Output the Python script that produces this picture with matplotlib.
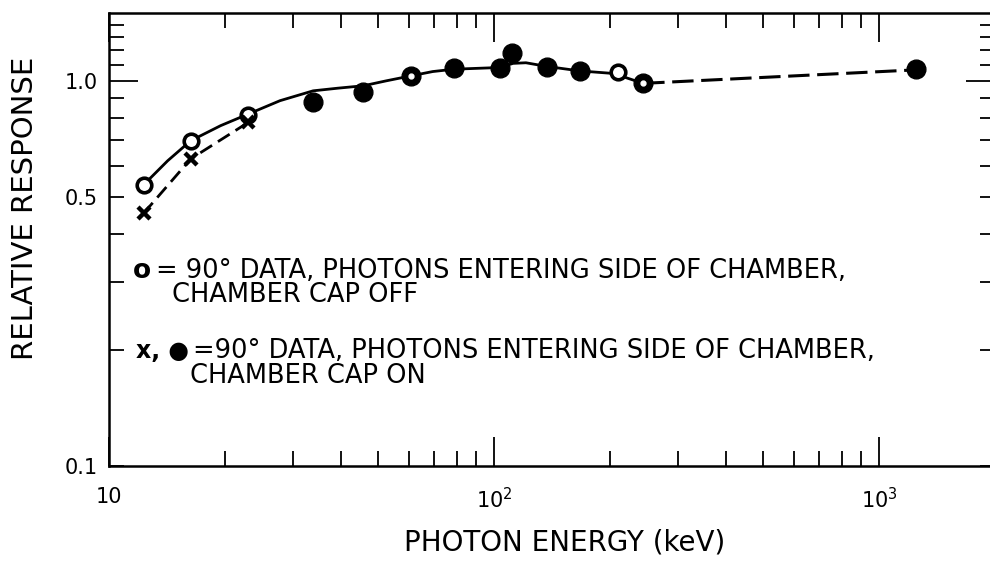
import matplotlib.pyplot as plt

# relative response vs photon energy

# o : cap off
off_e = [12.3, 16.3, 23.0, 210]
off_r = [0.537, 0.699, 0.813, 1.057]

# x : cap on, low energies
x_e = [12.3, 16.3, 23.0]
x_r = [0.453, 0.627, 0.780]

# filled : cap on
on_e = [33.9, 45.8, 60.8, 78.7, 103.7, 111.5, 137, 167, 244, 1250]
on_r = [0.879, 0.933, 1.032, 1.08, 1.08, 1.18, 1.089, 1.061, 0.985, 1.072]

# points where an open and a filled symbol sit on top of each other
both_e = [60.8, 244]
both_r = [1.032, 0.985]

# hand drawn solid curve
fit_e = [12.3, 14.2, 16.3, 19.5, 23.0, 27.8, 33.9, 39.3, 45.8, 52.5, 60.8,
         69.3, 78.7, 103.7, 112, 121, 137, 167, 204, 244]
fit_r = [0.537, 0.62, 0.699, 0.765, 0.82, 0.888, 0.942, 0.957, 0.971, 1.0, 1.03,
         1.057, 1.072, 1.083, 1.11, 1.114, 1.09, 1.061, 1.045, 0.985]

# dashed curve through the x points
dash_e = [12.3, 16.3, 23.0]
dash_r = [0.453, 0.627, 0.78]

# dashed extension up to 1.25 MeV
ext_e = [244, 1250]
ext_r = [0.985, 1.068]

xticks = [10, 100, 1000]
xlabels = ["10", "$10^2$", "$10^3$"]
yticks = [0.1, 0.5, 1.0]
ylabels = ["0.1", "0.5", "1.0"]
yminor = [0.2, 0.3, 0.4, 0.6, 0.7, 0.8, 0.9, 1.1, 1.2, 1.3, 1.4]

plt.rcParams['font.family'] = ['DejaVu Sans']

W, H = 990, 561
fig = plt.figure(figsize=(W / 100, H / 100), dpi=100)
ax = fig.add_axes([109 / W, 1 - 466 / H, 886 / W, 453 / H])
ax.set_xscale('log')
ax.set_yscale('log')
ax.set_xlim(10, 2000)
ax.set_ylim(0.1, 1.5)

ax.plot(fit_e, fit_r, color='black', lw=2.0, zorder=2)
ax.plot(dash_e, dash_r, color='black', lw=2.0, dashes=(5, 2.5), zorder=2)
ax.plot(ext_e, ext_r, color='black', lw=2.2, dashes=(7, 2.5), zorder=2)

ax.plot(on_e, on_r, 'o', ms=13.5, color='black', zorder=3)
ax.plot(both_e, both_r, 'o', ms=3.5, color='white', zorder=4)
ax.plot(off_e, off_r, 'o', ms=10.5, mfc='white', mec='black', mew=2.6, zorder=4)
ax.plot(x_e, x_r, 'x', ms=8, color='black', mew=3.2, zorder=4)

ax.set_xticks(xticks)
ax.set_xticklabels(xlabels)
ax.set_yticks(yticks)
ax.set_yticklabels(ylabels)
ax.set_yticks(yminor, minor=True)
ax.yaxis.set_minor_formatter(plt.NullFormatter())

ax.tick_params(which='both', direction='in', top=True, right=True,
               width=1.3, labelsize=15, pad=8)
ax.tick_params(axis='x', which='major', length=21, pad=15)
ax.tick_params(axis='x', which='minor', length=11)
ax.tick_params(axis='y', which='both', length=11)
# the 1.0 tick is drawn longer
for t in ax.yaxis.get_major_ticks():
    if abs(t.get_loc() - 1.0) < 1e-6:
        t.tick1line.set_markersize(21)
        t.tick2line.set_markersize(21)

for s in ax.spines.values():
    s.set_linewidth(1.8)

fig.text(565 / W, 1 - 543 / H, "PHOTON ENERGY (keV)", fontsize=20,
         ha='center', va='center')
fig.text(25 / W, 1 - 208 / H, "RELATIVE RESPONSE", fontsize=21,
         ha='center', va='center', rotation=90)


def px(x):
    # figure pixel column -> axes fraction
    return (x - 109) / 886


# key written inside the plot
ax.text(px(133), 0.415, "o", transform=ax.transAxes,
        fontsize=19, fontweight='bold', va='baseline')
ax.text(px(156), 0.415, "= 90° DATA, PHOTONS ENTERING SIDE OF CHAMBER,",
        transform=ax.transAxes, fontsize=18.5, va='baseline')
ax.text(px(172), 0.362, "CHAMBER CAP OFF",
        transform=ax.transAxes, fontsize=18.5, va='baseline')
ax.text(px(136), 0.238, "x, \u25cf", transform=ax.transAxes,
        fontsize=17, fontweight='bold', va='baseline')
ax.text(px(193), 0.238, "=90° DATA, PHOTONS ENTERING SIDE OF CHAMBER,",
        transform=ax.transAxes, fontsize=18.5, va='baseline')
ax.text(px(190), 0.183, "CHAMBER CAP ON",
        transform=ax.transAxes, fontsize=18.5, va='baseline')

fig.savefig("out.png", dpi=100)
